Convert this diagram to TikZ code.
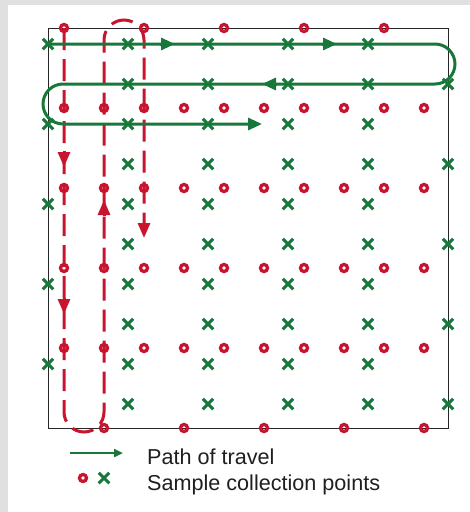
\documentclass[tikz,border=0pt]{standalone}
\usepackage{fontspec}
\setmainfont{Liberation Sans}
\usetikzlibrary{arrows.meta,shapes.misc}

\definecolor{pathred}{RGB}{200,20,46}
\definecolor{pathgreen}{RGB}{24,120,58}
\definecolor{panelgray}{RGB}{224,224,224}

\tikzset{
  redpt/.style={circle,draw=pathred,line width=3.3pt,minimum size=7pt,inner sep=0pt},
  greenx/.style={cross out,draw=pathgreen,line width=3pt,minimum size=7.5pt,inner sep=0pt},
  redway/.style={draw=pathred,line width=3pt,dash pattern=on 22pt off 9pt},
  greenway/.style={draw=pathgreen,line width=3pt},
  redtip/.style={pathred,line width=3pt,-{Triangle[length=15pt,width=12pt]}},
  greentip/.style={pathgreen,line width=3pt,-{Triangle[length=14pt,width=12pt]}},
  legendtext/.style={anchor=base west,font=\fontsize{21.6}{26}\selectfont,text=black!88,inner sep=0pt}
}

\begin{document}
\begin{tikzpicture}[x=1pt,y=-1pt]
  \useasboundingbox (0,0) rectangle (470,512);
  \fill[panelgray] (0,0) rectangle (470,512);
  \fill[white] (8,5) rectangle (470,512);
  \draw[line width=0.9pt,black!85] (48,28) rectangle (448,428);

  % sample collection points
  \foreach \x in {64,144,...,384} \node[redpt] (top-\x) at (\x,28) {};
  \foreach \y in {108,188,268,348}
    \foreach \x in {64,104,...,424} \node[redpt] (c-\x-\y) at (\x,\y) {};
  \foreach \x in {104,184,...,424} \node[redpt] (bot-\x) at (\x,428) {};
  \foreach \y in {44,124,...,364} \node[greenx] (left-\y) at (48,\y) {};
  \foreach \x in {128,208,288,368}
    \foreach \y in {44,84,...,404} \node[greenx] (x-\x-\y) at (\x,\y) {};
  \foreach \y in {84,164,...,404} \node[greenx] (right-\y) at (448,\y) {};

  % red route, down and up the columns
  \coordinate (r1) at (64,28);
  \coordinate (r2) at (64,412);
  \coordinate (r3) at (104,40);
  \coordinate (r4) at (144,238);
  \draw[redway,-{Triangle[length=15pt,width=12pt]}] (r1) -- (r2) arc(180:0:20) -- (r3) arc(180:360:20) -- (r4);
  \draw[redtip] (64,151) -- (64,167);
  \draw[redtip] (64,298) -- (64,314);
  \draw[redtip] (104,216) -- (104,200);

  % green route, along the rows
  \coordinate (g1) at (48,44);
  \coordinate (g2) at (435,44);
  \coordinate (g3) at (63,84);
  \coordinate (g4) at (262,124);
  \draw[greenway,-{Triangle[length=14pt,width=12pt]}] (g1) -- (g2) arc(-90:90:20) -- (g3) arc(-90:-270:20) -- (g4);
  \draw[greentip] (160,44) -- (175,44);
  \draw[greentip] (322,44) -- (337,44);
  \draw[greentip] (277,84) -- (262,84);

  % legend
  \coordinate (k1) at (70,453);
  \coordinate (k2) at (123,453);
  \draw[pathgreen,line width=2.6pt,-{Triangle[length=9pt,width=8pt]}] (k1) -- (k2);
  \node[redpt] (key-o) at (83,478) {};
  \node[greenx] (key-x) at (104,478) {};
  \node[legendtext] (key-path) at (147,464) {Path of travel};
  \node[legendtext] (key-pts) at (147,490) {Sample collection points};
\end{tikzpicture}
\end{document}
